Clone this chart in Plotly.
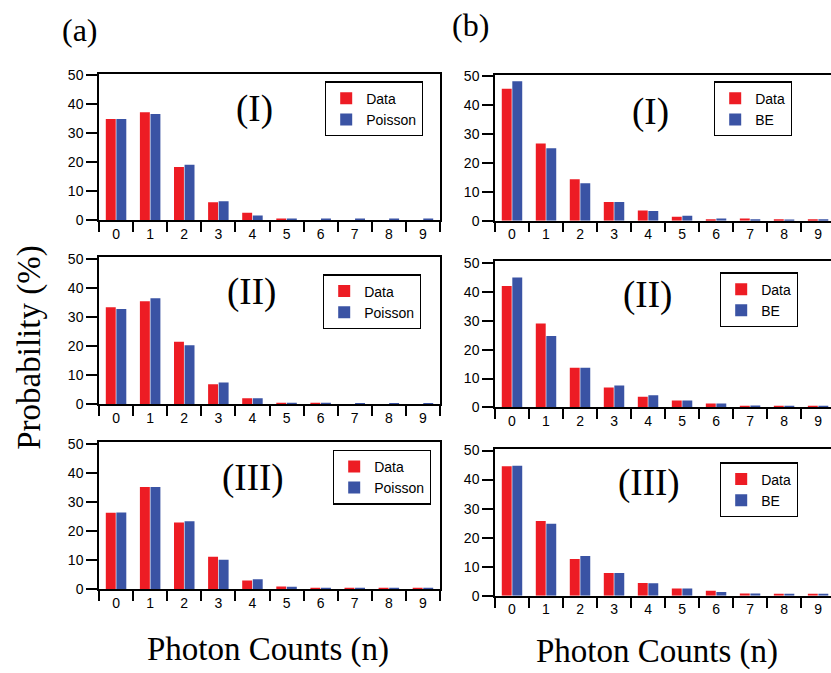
import plotly.graph_objects as go

W, H = 831, 673

counts = ["0", "1", "2", "3", "4", "5", "6", "7", "8", "9"]

# Column (a): measured data vs Poisson
a1_data = [34.9, 37.2, 18.3, 6.1, 2.5, 0.4, 0.0, 0.0, 0.0, 0.0]
a1_pois = [34.9, 36.6, 19.1, 6.5, 1.5, 0.4, 0.4, 0.3, 0.3, 0.3]
a2_data = [33.4, 35.4, 21.5, 6.9, 2.1, 0.5, 0.5, 0.0, 0.0, 0.0]
a2_pois = [32.8, 36.5, 20.3, 7.5, 2.1, 0.5, 0.5, 0.4, 0.4, 0.4]
a3_data = [26.3, 35.2, 23.0, 11.2, 3.0, 1.0, 0.5, 0.5, 0.5, 0.5]
a3_pois = [26.4, 35.2, 23.4, 10.2, 3.5, 0.9, 0.5, 0.5, 0.5, 0.5]

# Column (b): measured data vs Bose-Einstein
b1_data = [45.7, 26.7, 14.4, 6.5, 3.5, 1.4, 0.5, 0.8, 0.5, 0.5]
b1_be = [48.3, 25.1, 13.0, 6.5, 3.4, 1.7, 0.8, 0.5, 0.4, 0.5]
b2_data = [42.0, 29.0, 13.7, 6.9, 3.7, 2.4, 1.4, 0.6, 0.6, 0.6]
b2_be = [44.9, 24.7, 13.7, 7.6, 4.2, 2.4, 1.4, 0.7, 0.6, 0.6]
b3_data = [44.6, 25.7, 12.7, 7.8, 4.4, 2.5, 1.7, 0.8, 0.7, 0.7]
b3_be = [44.8, 24.8, 13.7, 7.8, 4.3, 2.5, 1.3, 0.8, 0.7, 0.7]

panel_labels = ["(I)", "(II)", "(III)", "(I)", "(II)", "(III)"]
fit_names = ["Poisson", "Poisson", "Poisson", "BE", "BE", "BE"]
data_sets = [a1_data, a2_data, a3_data, b1_data, b2_data, b3_data]
fit_sets = [a1_pois, a2_pois, a3_pois, b1_be, b2_be, b3_be]

RED = "#ED1C24"
BLUE = "#3A53A4"

# pixel geometry: (left, right, top, zero-line)
panels = [
    (99, 440, 69.0, 218.5),
    (99, 440, 256.5, 406.7),
    (99, 440, 445.5, 595.7),
    (495, 831, 70.0, 219.3),
    (495, 831, 260.5, 410.0),
    (495, 831, 452.2, 602.3),
]
# label centres (px)
label_pos = [(255, 105), (252, 292), (253, 482), (650, 108), (647, 295), (649, 487)]
# legend top-left (px)
legend_pos = [(325, 77), (323, 274), (333, 453), (714, 77), (720, 272), (720, 466)]

YMAX = 50.6

fig = go.Figure()
layout = dict(
    width=W, height=H,
    margin=dict(l=0, r=0, t=0, b=0),
    paper_bgcolor="white", plot_bgcolor="white",
    barmode="group", bargap=0.38, bargroupgap=0.06,
    font=dict(family="Liberation Sans", size=14, color="black"),
)
annotations = []

for i in range(6):
    sfx = "" if i == 0 else str(i + 1)
    xa, ya = "x" + sfx, "y" + sfx
    lg = "legend" + sfx
    fig.add_trace(go.Bar(x=counts, y=data_sets[i], name="Data", marker=dict(color=RED, line=dict(width=0)),
                         xaxis=xa, yaxis=ya, legend=lg))
    fig.add_trace(go.Bar(x=counts, y=fit_sets[i], name=fit_names[i], marker=dict(color=BLUE, line=dict(width=0)),
                         xaxis=xa, yaxis=ya, legend=lg))
    l, r, t, b = panels[i]
    right_col = i >= 3
    layout["xaxis" + sfx] = dict(
        domain=[l / W, r / W], anchor=ya, type="category",
        range=[-0.5, 9.38] if right_col else [-0.5, 9.5],
        showline=True, linecolor="black", linewidth=1.5, mirror=True,
        ticks="outside", ticklen=10, tickwidth=1.5, tickcolor="black",
        tickson="boundaries", showgrid=False, zeroline=False,
        tickfont=dict(family="Liberation Sans", size=14),
        fixedrange=True,
    )
    layout["yaxis" + sfx] = dict(
        domain=[1 - b / H, 1 - t / H], anchor=xa,
        range=[0, YMAX], tickvals=[0, 10, 20, 30, 40, 50],
        showline=True, linecolor="black", linewidth=1.5, mirror=(not right_col),
        ticks="outside", ticklen=11, tickwidth=1.5, tickcolor="black",
        showgrid=False, zeroline=False,
        tickfont=dict(family="Liberation Sans", size=14),
        fixedrange=True,
    )
    lx, ly = legend_pos[i]
    layout[lg] = dict(
        x=lx / W, y=1 - ly / H, xanchor="left", yanchor="top",
        bordercolor="black", borderwidth=1.2, bgcolor="white",
        font=dict(family="Liberation Sans", size=14, color="black"),
        tracegroupgap=0, itemsizing="constant",
    )
    cx, cy = label_pos[i]
    annotations.append(dict(
        text=panel_labels[i], x=cx / W, y=1 - cy / H, xref="paper", yref="paper",
        xanchor="center", yanchor="middle", showarrow=False,
        font=dict(family="Liberation Serif", size=37, color="black"),
    ))

annotations += [
    dict(text="(a)", x=80 / W, y=1 - 24 / H, xref="paper", yref="paper", showarrow=False,
         xanchor="center", yanchor="middle", font=dict(family="Liberation Serif", size=32)),
    dict(text="(b)", x=470 / W, y=1 - 19 / H, xref="paper", yref="paper", showarrow=False,
         xanchor="center", yanchor="middle", font=dict(family="Liberation Serif", size=32)),
    dict(text="Photon Counts (n)", x=268 / W, y=1 - 657 / H, xref="paper", yref="paper", showarrow=False,
         xanchor="center", yanchor="middle", font=dict(family="Liberation Serif", size=33)),
    dict(text="Photon Counts (n)", x=657 / W, y=1 - 659 / H, xref="paper", yref="paper", showarrow=False,
         xanchor="center", yanchor="middle", font=dict(family="Liberation Serif", size=33)),
    dict(text="Probability (%)", x=30 / W, y=1 - 349 / H, xref="paper", yref="paper", showarrow=False,
         textangle=-90, xanchor="center", yanchor="middle", font=dict(family="Liberation Serif", size=33)),
]
layout["annotations"] = annotations
fig.update_layout(**layout)

fig.write_html("out.html")
